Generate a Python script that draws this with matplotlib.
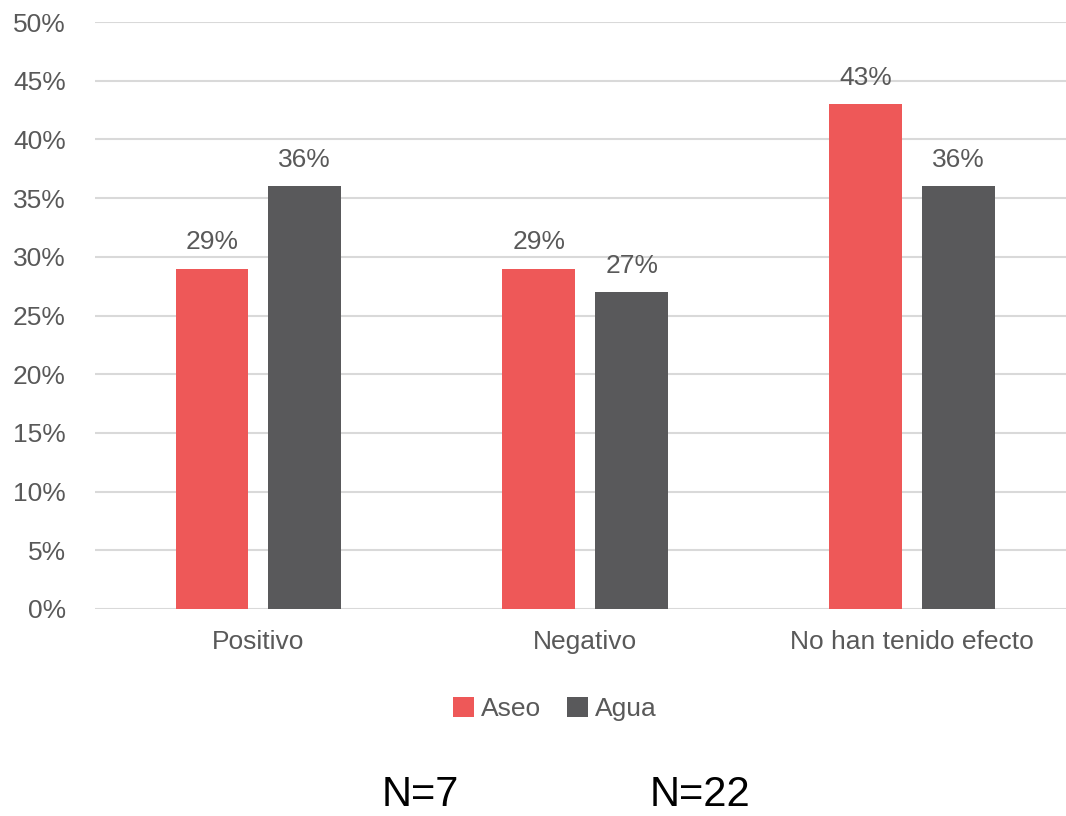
import matplotlib.pyplot as plt
import numpy as np
from matplotlib import font_manager

# fuente angosta tipo Arial Narrow
nombres = {f.name for f in font_manager.fontManager.ttflist}
fuente = 'Liberation Sans Narrow' if 'Liberation Sans Narrow' in nombres else 'Liberation Sans'
plt.rcParams['font.family'] = [fuente, 'DejaVu Sans']

categorias = ['Positivo', 'Negativo', 'No han tenido efecto']
aseo = [29, 29, 43]
agua = [36, 27, 36]
series = ['Aseo', 'Agua']
colores = ['#EE5858', '#59595B']
gris_texto = '#595959'

fig = plt.figure(figsize=(10.66, 8.16), dpi=100)
ax = fig.add_axes([95 / 1066, 1 - 609 / 816, 971 / 1066, 587 / 816])

x = np.arange(len(categorias))
ancho = 0.223
desp = 0.142
b1 = ax.bar(x - desp, aseo, ancho, color=colores[0], label=series[0], zorder=3)
b2 = ax.bar(x + desp, agua, ancho, color=colores[1], label=series[1], zorder=3)

for barras, vals in ((b1, aseo), (b2, agua)):
    for b, v in zip(barras, vals):
        ax.text(b.get_x() + b.get_width() / 2, v + 1.2, f'{v}%', ha='center', va='bottom',
                fontsize=19, color=gris_texto)

ax.set_ylim(0, 50)
ax.set_xlim(-0.5, 2.5 - 9.5 / 327)
ax.set_yticks(range(0, 51, 5))
ax.set_yticklabels([f'{v}%' for v in range(0, 51, 5)])
ax.set_xticks(x)
ax.set_xticklabels(categorias)
ax.tick_params(axis='both', length=0, labelsize=19, colors=gris_texto)
ax.tick_params(axis='y', pad=21)
ax.tick_params(axis='x', pad=15)
ax.grid(axis='y', color='#D9D9D9', linewidth=1.5, zorder=0)
for s in ax.spines.values():
    s.set_visible(False)

fig.legend(handles=[b1, b2], labels=series, loc='center', bbox_to_anchor=(555 / 1066, 1 - 709 / 816),
           ncol=2, frameon=False, fontsize=19, handlelength=0.8, handleheight=0.8,
           handletextpad=0.25, columnspacing=1.0, labelcolor=gris_texto)

fig.text(420 / 1066, 1 - 795 / 816, 'N=7', ha='center', va='center', fontsize=30, color='black')
fig.text(700 / 1066, 1 - 795 / 816, 'N=22', ha='center', va='center', fontsize=30, color='black')

fig.savefig('out.png', dpi=100)
